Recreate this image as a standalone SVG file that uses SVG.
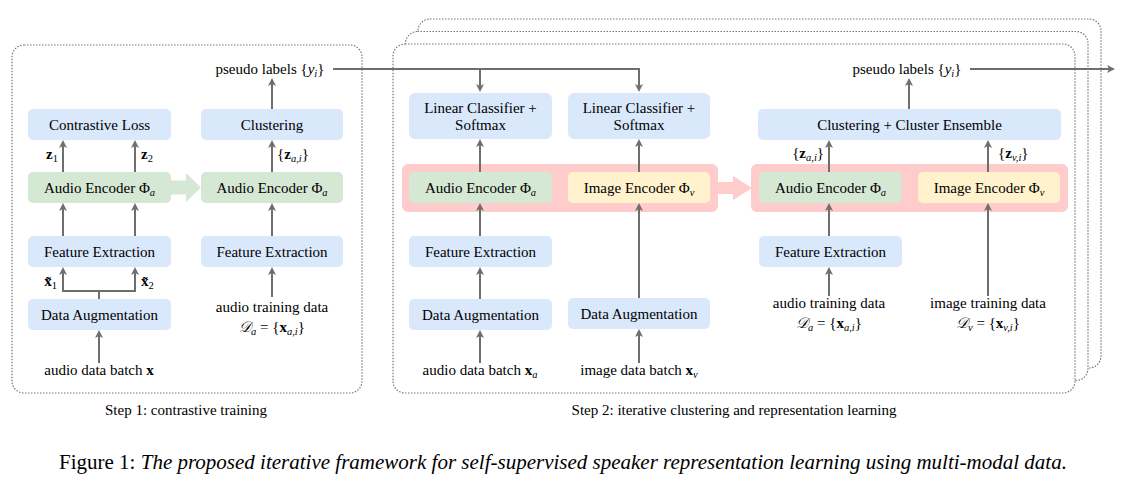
<svg xmlns="http://www.w3.org/2000/svg" width="1128" height="496" viewBox="0 0 1128 496">
<style>
  .frame{fill:#fff;stroke:#777;stroke-width:1.2;stroke-dasharray:1.5 1.5}
  .blue{fill:#dae8fc}
  .green{fill:#d5e8d4}
  .yellow{fill:#fff2cc}
  .band{fill:#ffcccc}
  .t{font-family:"Liberation Serif","Times New Roman",serif;font-size:15px;fill:#000;text-anchor:middle}
  .l{text-anchor:start}
  .r{text-anchor:end}
  .i{font-style:italic}
  .b{font-weight:bold}
  .s{font-size:10.5px}
  .e{fill:none;stroke:#6e6e6e;stroke-width:2;marker-end:url(#ah)}
  .cap{font-family:"Liberation Serif","Times New Roman",serif;font-size:21px;fill:#000;text-anchor:middle}
</style>
<defs>
  <marker id="ah" viewBox="0 0 8 8" refX="5" refY="4" markerWidth="8" markerHeight="8" markerUnits="userSpaceOnUse" orient="auto">
    <path d="M0,0 L8,4 L0,8 L2,4 z" fill="#6e6e6e"/>
  </marker>
</defs>

<!-- frames -->
<g id="frames">
  <rect class="frame" x="12" y="45" width="350" height="348" rx="12"/>
  <rect class="frame" x="418" y="19" width="683" height="349" rx="12"/>
  <rect class="frame" x="405.5" y="31.5" width="682.5" height="349" rx="12"/>
  <rect class="frame" x="393" y="44" width="682" height="349" rx="12"/>
</g>

<!-- Step 1 -->
<g id="s1-contrastive"><rect class="blue" x="28" y="109" width="143" height="31" rx="5"/><text class="t" x="99.5" y="129.5">Contrastive Loss</text></g>
<g id="s1-clustering"><rect class="blue" x="201" y="109" width="142" height="31" rx="5"/><text class="t" x="272" y="129.5">Clustering</text></g>
<g id="s1-enc1"><rect class="green" x="28" y="172" width="143" height="31" rx="5"/><text class="t" x="99.5" y="192.5">Audio Encoder Φ<tspan class="i s" dy="3">a</tspan></text></g>
<g id="s1-enc2"><rect class="green" x="201" y="172" width="142" height="31" rx="5"/><text class="t" x="272" y="192.5">Audio Encoder Φ<tspan class="i s" dy="3">a</tspan></text></g>
<g id="s1-fe1"><rect class="blue" x="28" y="236" width="143" height="31" rx="5"/><text class="t" x="99.5" y="256.5">Feature Extraction</text></g>
<g id="s1-fe2"><rect class="blue" x="201" y="236" width="142" height="31" rx="5"/><text class="t" x="272" y="256.5">Feature Extraction</text></g>
<g id="s1-da"><rect class="blue" x="28" y="299" width="143" height="31" rx="5"/><text class="t" x="99.5" y="319.5">Data Augmentation</text></g>
<g id="s1-transfer"><polygon points="171,180.5 186,180.5 186,173 201,187.5 186,202 186,194.5 171,194.5" fill="#d5e8d4"/></g>

<!-- Step 2 -->
<g id="s2-band1"><rect class="band" x="402" y="164" width="316" height="48" rx="6"/></g>
<g id="s2-band2"><rect class="band" x="751" y="164" width="317" height="48" rx="6"/></g>
<g id="s2-transfer"><polygon points="718,182 733,182 733,176 752,188 733,200 733,194 718,194" fill="#ffcccc"/></g>
<g id="s2-lc1"><rect class="blue" x="409" y="93" width="143" height="46" rx="6"/><text class="t" x="480.5" y="113">Linear Classifier +</text><text class="t" x="480.5" y="130">Softmax</text></g>
<g id="s2-lc2"><rect class="blue" x="568" y="93" width="142" height="46" rx="6"/><text class="t" x="639" y="113">Linear Classifier +</text><text class="t" x="639" y="130">Softmax</text></g>
<g id="s2-aenc"><rect class="green" x="409" y="172" width="143" height="31" rx="5"/><text class="t" x="480.5" y="192.5">Audio Encoder Φ<tspan class="i s" dy="3">a</tspan></text></g>
<g id="s2-ienc"><rect class="yellow" x="568" y="172" width="142" height="31" rx="5"/><text class="t" x="639" y="192.5">Image Encoder Φ<tspan class="i s" dy="3">v</tspan></text></g>
<g id="s2-fe"><rect class="blue" x="409" y="236" width="143" height="31" rx="5"/><text class="t" x="480.5" y="256.5">Feature Extraction</text></g>
<g id="s2-da1"><rect class="blue" x="409" y="299" width="143" height="31" rx="5"/><text class="t" x="480.5" y="319.5">Data Augmentation</text></g>
<g id="s2-da2"><rect class="blue" x="568" y="298" width="142" height="31" rx="5"/><text class="t" x="639" y="318.5">Data Augmentation</text></g>

<g id="s2-cce"><rect class="blue" x="758" y="109" width="303" height="31" rx="5"/><text class="t" x="909.5" y="129.5">Clustering + Cluster Ensemble</text></g>
<g id="s2-aenc2"><rect class="green" x="759" y="172" width="143" height="31" rx="5"/><text class="t" x="830.5" y="192.5">Audio Encoder Φ<tspan class="i s" dy="3">a</tspan></text></g>
<g id="s2-ienc2"><rect class="yellow" x="918" y="172" width="142" height="31" rx="5"/><text class="t" x="989" y="192.5">Image Encoder Φ<tspan class="i s" dy="3">v</tspan></text></g>
<g id="s2-fe2"><rect class="blue" x="759" y="236" width="143" height="31" rx="5"/><text class="t" x="830.5" y="256.5">Feature Extraction</text></g>

<!-- connectors -->
<g id="connectors">
  <path class="e" d="M63,172 V143"/>
  <path class="e" d="M135,172 V143"/>
  <path class="e" d="M272,172 V143"/>
  <path class="e" d="M272,109 V81"/>
  <path class="e" d="M63,236 V206"/>
  <path class="e" d="M135,236 V206"/>
  <path class="e" d="M272,236 V206"/>
  <path class="e" d="M99,299 V291 H63 V270"/>
  <path class="e" d="M99,291 H135 V270"/>
  <path class="e" d="M99,363 V333"/>
  <path class="e" d="M272,297 V270"/>

  <path class="e" d="M333,69 H639 V89"/>
  <path class="e" d="M480,69 V89"/>

  <path class="e" d="M480,172 V142"/>
  <path class="e" d="M639,172 V142"/>
  <path class="e" d="M480,236 V206"/>
  <path class="e" d="M480,299 V270"/>
  <path class="e" d="M480,363 V333"/>
  <path class="e" d="M639,298 V206"/>
  <path class="e" d="M639,363 V332"/>

  <path class="e" d="M909,109 V81"/>
  <path class="e" d="M970,69 H1112"/>
  <path class="e" d="M829,172 V143"/>
  <path class="e" d="M988,172 V143"/>
  <path class="e" d="M829,236 V206"/>
  <path class="e" d="M829,296 V270"/>
  <path class="e" d="M988,296 V206"/>
</g>

<!-- labels -->
<g id="labels">
  <text class="t" x="270" y="74">pseudo labels {<tspan class="i">y</tspan><tspan class="i s" dy="3">i</tspan><tspan dy="-3">}</tspan></text>
  <text class="t r" x="58" y="159"><tspan class="b">z</tspan><tspan class="s" dy="3">1</tspan></text>
  <text class="t l" x="141" y="159"><tspan class="b">z</tspan><tspan class="s" dy="3">2</tspan></text>
  <text class="t l" x="277" y="159">{<tspan class="b">z</tspan><tspan class="i s" dy="3">a,i</tspan><tspan dy="-3">}</tspan></text>
  <text class="t r" x="57" y="286"><tspan class="b">x̃</tspan><tspan class="s" dy="3">1</tspan></text>
  <text class="t l" x="141" y="286"><tspan class="b">x̃</tspan><tspan class="s" dy="3">2</tspan></text>
  <text class="t" x="99" y="375">audio data batch <tspan class="b">x</tspan></text>
  <text class="t" x="272" y="312">audio training data</text>
  <text class="t" x="272" y="332"><tspan class="i">𝒟</tspan><tspan class="i s" dy="3">a</tspan><tspan dy="-3"> = {</tspan><tspan class="b">x</tspan><tspan class="i s" dy="3">a,i</tspan><tspan dy="-3">}</tspan></text>
  <text class="t" x="186" y="415">Step 1: contrastive training</text>

  <text class="t" x="480" y="375">audio data batch <tspan class="b">x</tspan><tspan class="i s" dy="3">a</tspan></text>
  <text class="t" x="639" y="375">image data batch <tspan class="b">x</tspan><tspan class="i s" dy="3">v</tspan></text>

  <text class="t" x="907" y="74">pseudo labels {<tspan class="i">y</tspan><tspan class="i s" dy="3">i</tspan><tspan dy="-3">}</tspan></text>
  <text class="t r" x="824" y="158">{<tspan class="b">z</tspan><tspan class="i s" dy="3">a,i</tspan><tspan dy="-3">}</tspan></text>
  <text class="t l" x="998" y="158">{<tspan class="b">z</tspan><tspan class="i s" dy="3">v,i</tspan><tspan dy="-3">}</tspan></text>
  <text class="t" x="829" y="308">audio training data</text>
  <text class="t" x="829" y="328"><tspan class="i">𝒟</tspan><tspan class="i s" dy="3">a</tspan><tspan dy="-3"> = {</tspan><tspan class="b">x</tspan><tspan class="i s" dy="3">a,i</tspan><tspan dy="-3">}</tspan></text>
  <text class="t" x="988" y="308">image training data</text>
  <text class="t" x="988" y="328"><tspan class="i">𝒟</tspan><tspan class="i s" dy="3">v</tspan><tspan dy="-3"> = {</tspan><tspan class="b">x</tspan><tspan class="i s" dy="3">v,i</tspan><tspan dy="-3">}</tspan></text>
  <text class="t" x="734" y="415">Step 2: iterative clustering and representation learning</text>

  <text class="cap" x="563" y="469">Figure 1: <tspan font-style="italic">The proposed iterative framework for self-supervised speaker representation learning using multi-modal data.</tspan></text>
</g>
</svg>
